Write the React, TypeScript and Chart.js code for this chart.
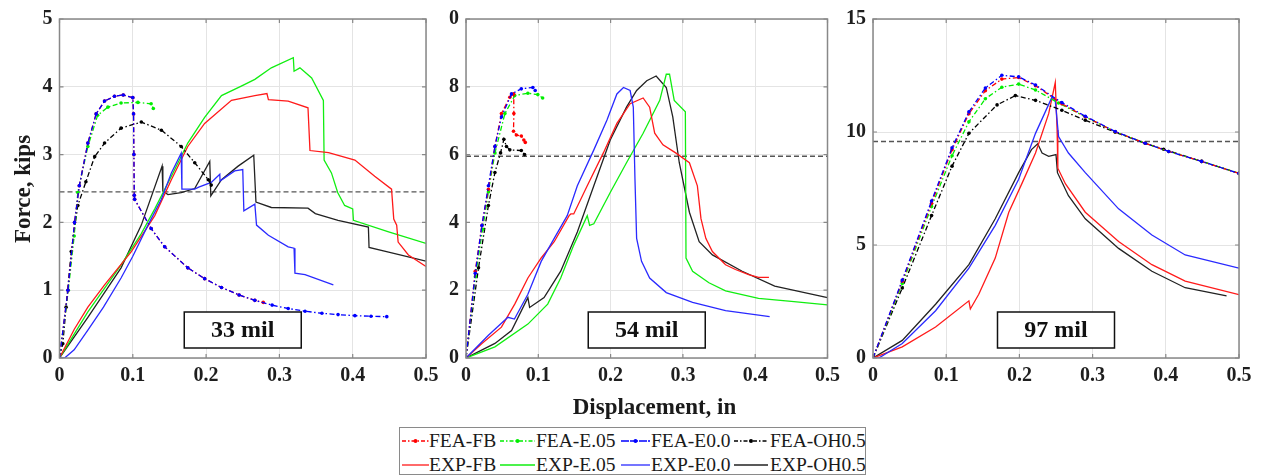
import React, { useEffect, useRef } from "react";
import { Chart, registerables } from "chart.js";
Chart.register(...registerables);

type Pt = [number, number];

// ---------- axes / labels ----------
const X_TICKS = [0, 0.1, 0.2, 0.3, 0.4, 0.5];
const Y_TICKS_33 = [0, 1, 2, 3, 4, 5];
const Y_TICKS_54 = [0, 2, 4, 6, 8, 10];
const Y_TICKS_97 = [0, 5, 10, 15];
const PANEL_LABELS = ["33 mil", "54 mil", "97 mil"];
const THRESHOLDS = [2.45, 5.95, 9.58];
const SERIES_NAMES = ["FEA-FB", "FEA-E.05", "FEA-E0.0", "FEA-OH0.5", "EXP-FB", "EXP-E.05", "EXP-E0.0", "EXP-OH0.5"];
const SERIES_COLORS = ["#ff0000", "#00ee00", "#0000ff", "#000000", "#ff1a1a", "#11ee11", "#2a2aff", "#222222"];
const X_TITLE = "Displacement, in";
const Y_TITLE = "Force, kips";

// ---------- 33 mil ----------
const p33FeaFB: Pt[] = [[0, 0], [0.0115, 1.0], [0.0205, 2.0], [0.027, 2.54], [0.0387, 3.17], [0.05, 3.6], [0.0615, 3.79], [0.075, 3.86], [0.087, 3.88], [0.1, 3.84], [0.101, 3.6], [0.1015, 3.0], [0.102, 2.4], [0.1025, 2.34], [0.125, 1.91], [0.1435, 1.64], [0.175, 1.33], [0.198, 1.17], [0.221, 1.04], [0.245, 0.93], [0.2665, 0.85], [0.278, 0.82]];
const p33FeaE05: Pt[] = [[0, 0], [0.012, 1.0], [0.02, 1.8], [0.025, 2.44], [0.0387, 3.12], [0.052, 3.58], [0.066, 3.7], [0.084, 3.76], [0.107, 3.77], [0.125, 3.75], [0.128, 3.68]];
const p33FeaE00: Pt[] = [[0, 0], [0.0115, 1.0], [0.0205, 2.0], [0.027, 2.54], [0.0387, 3.17], [0.05, 3.6], [0.0615, 3.79], [0.075, 3.86], [0.087, 3.88], [0.1, 3.84], [0.101, 3.6], [0.1015, 3.0], [0.102, 2.4], [0.1025, 2.34], [0.125, 1.91], [0.1435, 1.64], [0.175, 1.33], [0.198, 1.17], [0.221, 1.04], [0.245, 0.93], [0.2665, 0.85], [0.29, 0.78], [0.312, 0.73], [0.335, 0.69], [0.358, 0.66], [0.38, 0.64], [0.403, 0.625], [0.425, 0.615], [0.4465, 0.61]];
const p33FeaOH: Pt[] = [[0, 0], [0.0045, 0.21], [0.009, 0.75], [0.016, 1.57], [0.025, 2.25], [0.036, 2.6], [0.048, 2.97], [0.0615, 3.17], [0.084, 3.39], [0.1116, 3.48], [0.139, 3.36], [0.166, 3.12], [0.1845, 2.88], [0.203, 2.63], [0.207, 2.55]];
const p33ExpFB: Pt[] = [[0, 0], [0.02, 0.42], [0.0387, 0.75], [0.0615, 1.08], [0.098, 1.57], [0.13, 2.1], [0.1526, 2.63], [0.175, 3.12], [0.198, 3.46], [0.2346, 3.8], [0.2665, 3.87], [0.283, 3.9], [0.285, 3.81], [0.312, 3.79], [0.339, 3.69], [0.3417, 3.06], [0.367, 3.03], [0.403, 2.92], [0.43, 2.68], [0.453, 2.49], [0.456, 2.05], [0.46, 1.96], [0.462, 1.71], [0.476, 1.52], [0.5, 1.35]];
const p33ExpE05: Pt[] = [[0, 0], [0.0387, 0.68], [0.084, 1.375], [0.1116, 1.835], [0.13, 2.2], [0.1526, 2.68], [0.175, 3.17], [0.198, 3.55], [0.221, 3.87], [0.248, 4.01], [0.2665, 4.11], [0.289, 4.28], [0.319, 4.43], [0.32, 4.23], [0.328, 4.28], [0.344, 4.13], [0.36, 3.8], [0.361, 2.92], [0.371, 2.73], [0.3795, 2.44], [0.389, 2.25], [0.4, 2.2], [0.401, 2.03], [0.449, 1.86], [0.5, 1.69]];
const p33ExpE00: Pt[] = [[0, 0], [0.007, 0], [0.02, 0.12], [0.0387, 0.41], [0.06, 0.75], [0.084, 1.18], [0.1, 1.5], [0.1207, 1.96], [0.139, 2.34], [0.1526, 2.73], [0.166, 3.02], [0.167, 2.49], [0.1845, 2.49], [0.19, 2.52], [0.207, 2.59], [0.2187, 2.71], [0.219, 2.61], [0.239, 2.76], [0.25, 2.78], [0.2515, 2.17], [0.2665, 2.27], [0.2688, 1.96], [0.285, 1.81], [0.312, 1.64], [0.32, 1.62], [0.3212, 1.25], [0.335, 1.23], [0.3736, 1.08]];
const p33ExpOH: Pt[] = [[0, 0], [0.0387, 0.6], [0.084, 1.33], [0.1116, 1.96], [0.14, 2.83], [0.141, 2.46], [0.148, 2.41], [0.166, 2.44], [0.1845, 2.5], [0.205, 2.9], [0.2064, 2.39], [0.221, 2.63], [0.2437, 2.83], [0.265, 2.99], [0.268, 2.3], [0.289, 2.22], [0.339, 2.21], [0.349, 2.13], [0.38, 2.03], [0.4214, 1.93], [0.4223, 1.63], [0.449, 1.56], [0.5, 1.43]];

// ---------- 54 mil ----------
const p54FeaFB: Pt[] = [[0, 0], [0.0128, 2.56], [0.022, 3.91], [0.031, 4.98], [0.04, 6.24], [0.049, 7.21], [0.0606, 7.69], [0.066, 7.79], [0.0662, 7.21], [0.0657, 6.69], [0.0697, 6.58], [0.0765, 6.55], [0.08, 6.43], [0.082, 6.36]];
const p54FeaE05: Pt[] = [[0, 0], [0.013, 2.4], [0.023, 3.8], [0.031, 4.9], [0.04, 6.05], [0.0538, 7.21], [0.0674, 7.74], [0.0856, 7.81], [0.0993, 7.77], [0.106, 7.67]];
const p54FeaE00: Pt[] = [[0, 0], [0.0128, 2.5], [0.022, 3.91], [0.031, 5.08], [0.04, 6.24], [0.049, 7.11], [0.0629, 7.79], [0.0765, 7.94], [0.0925, 7.98], [0.0957, 7.89]];
const p54FeaOH: Pt[] = [[0, 0], [0.0173, 2.66], [0.031, 4.5], [0.04, 5.47], [0.0478, 6.05], [0.0524, 6.45], [0.056, 6.24], [0.0606, 6.14], [0.0765, 6.12], [0.081, 6.0]];
const p54ExpFB: Pt[] = [[0, 0], [0.022, 0.43], [0.049, 0.91], [0.0674, 1.59], [0.0856, 2.36], [0.104, 2.95], [0.122, 3.43], [0.1426, 4.2], [0.145, 4.25], [0.149, 4.25], [0.1677, 5.08], [0.19, 6.05], [0.2087, 6.92], [0.227, 7.5], [0.245, 7.67], [0.254, 7.4], [0.261, 6.63], [0.2724, 6.29], [0.29, 6.05], [0.309, 5.76], [0.32, 5.08], [0.325, 4.11], [0.3317, 3.53], [0.3408, 3.14], [0.359, 2.75], [0.3727, 2.61], [0.391, 2.46], [0.4046, 2.38], [0.419, 2.38]];
const p54ExpE05: Pt[] = [[0, 0], [0.04, 0.33], [0.0856, 1.0], [0.113, 1.59], [0.131, 2.36], [0.149, 3.33], [0.1677, 4.2], [0.171, 3.91], [0.1768, 3.96], [0.1995, 4.88], [0.222, 5.76], [0.245, 6.63], [0.268, 7.6], [0.277, 8.37], [0.2815, 8.37], [0.288, 7.6], [0.3034, 7.26], [0.3043, 2.95], [0.3134, 2.56], [0.336, 2.22], [0.359, 1.98], [0.4046, 1.76], [0.45, 1.67], [0.5, 1.57]];
const p54ExpE00: Pt[] = [[0, 0], [0.031, 0.67], [0.058, 1.2], [0.067, 1.15], [0.0856, 1.88], [0.104, 2.85], [0.122, 3.53], [0.14, 4.2], [0.154, 5.08], [0.1768, 6.14], [0.195, 7.02], [0.2087, 7.79], [0.2178, 7.98], [0.227, 7.89], [0.2314, 7.4], [0.2337, 5.27], [0.236, 3.53], [0.2428, 2.85], [0.254, 2.36], [0.277, 1.93], [0.3134, 1.64], [0.359, 1.4], [0.42, 1.22]];
const p54ExpOH: Pt[] = [[0, 0], [0.04, 0.43], [0.063, 0.81], [0.0856, 1.78], [0.088, 1.49], [0.108, 1.78], [0.131, 2.56], [0.154, 3.72], [0.1768, 5.08], [0.1995, 6.43], [0.222, 7.4], [0.236, 7.89], [0.25, 8.18], [0.263, 8.32], [0.277, 7.98], [0.286, 7.11], [0.295, 5.76], [0.309, 4.3], [0.3225, 3.43], [0.3408, 3.04], [0.382, 2.56], [0.427, 2.12], [0.5, 1.78]];

// ---------- 97 mil ----------
const p97FeaFB: Pt[] = [[0, 0], [0.04, 3.4], [0.08, 6.85], [0.108, 9.22], [0.131, 10.81], [0.1535, 11.83], [0.176, 12.34], [0.199, 12.41], [0.222, 12.05], [0.258, 11.25], [0.29, 10.67], [0.331, 10.01], [0.372, 9.5], [0.404, 9.14], [0.449, 8.7], [0.5, 8.17]];
const p97FeaE05: Pt[] = [[0, 0], [0.04, 3.3], [0.08, 6.7], [0.108, 8.95], [0.131, 10.45], [0.1535, 11.47], [0.176, 11.98], [0.199, 12.12], [0.222, 11.86], [0.2535, 11.28], [0.29, 10.67], [0.331, 10.01], [0.372, 9.5], [0.404, 9.14], [0.449, 8.7], [0.5, 8.17]];
const p97FeaE00: Pt[] = [[0, 0], [0.04, 3.45], [0.08, 6.95], [0.108, 9.3], [0.131, 10.89], [0.1535, 11.95], [0.176, 12.51], [0.199, 12.44], [0.222, 12.08], [0.258, 11.3], [0.29, 10.7], [0.331, 10.02], [0.372, 9.5], [0.404, 9.14], [0.449, 8.7], [0.5, 8.17]];
const p97FeaOH: Pt[] = [[0, 0], [0.04, 3.1], [0.08, 6.3], [0.108, 8.49], [0.131, 9.94], [0.1695, 11.2], [0.1945, 11.61], [0.222, 11.4], [0.258, 10.96], [0.29, 10.52], [0.331, 9.99], [0.372, 9.5], [0.397, 9.24], [0.449, 8.7], [0.5, 8.17]];
const p97ExpFB: Pt[] = [[0, 0], [0.04, 0.49], [0.0855, 1.37], [0.131, 2.53], [0.133, 2.17], [0.1445, 2.82], [0.167, 4.42], [0.1855, 6.45], [0.204, 7.76], [0.222, 9.07], [0.24, 10.81], [0.249, 12.19], [0.2515, 10.09], [0.2525, 8.4], [0.263, 7.7], [0.29, 6.45], [0.3355, 5.15], [0.381, 4.13], [0.4265, 3.4], [0.5, 2.8]];
const p97ExpE00: Pt[] = [[0, 0], [0.008, 0], [0.04, 0.64], [0.0855, 2.09], [0.131, 3.98], [0.167, 5.87], [0.199, 7.91], [0.222, 9.94], [0.2445, 11.54], [0.249, 11.4], [0.2535, 9.8], [0.267, 9.07], [0.29, 8.2], [0.3355, 6.6], [0.381, 5.44], [0.4265, 4.56], [0.5, 3.98]];
const p97ExpOH: Pt[] = [[0, 0], [0.04, 0.78], [0.0855, 2.38], [0.131, 4.13], [0.167, 6.16], [0.199, 8.2], [0.2165, 9.22], [0.225, 9.48], [0.231, 9.07], [0.24, 8.92], [0.25, 9.0], [0.252, 8.2], [0.267, 7.18], [0.29, 6.16], [0.3355, 4.85], [0.381, 3.84], [0.4265, 3.11], [0.483, 2.75]];

const PANEL_SERIES: (Pt[] | null)[][] = [
  [p33FeaFB, p33FeaE05, p33FeaE00, p33FeaOH, p33ExpFB, p33ExpE05, p33ExpE00, p33ExpOH],
  [p54FeaFB, p54FeaE05, p54FeaE00, p54FeaOH, p54ExpFB, p54ExpE05, p54ExpE00, p54ExpOH],
  [p97FeaFB, p97FeaE05, p97FeaE00, p97FeaOH, p97ExpFB, null, p97ExpE00, p97ExpOH],
];
const PANEL_YTICKS = [Y_TICKS_33, Y_TICKS_54, Y_TICKS_97];

// ---------- layout (pixels) ----------
const FONT = '"Liberation Serif", "Times New Roman", Times, serif';
Chart.defaults.font.family = FONT;
const LAYOUT = [
  { left: 0, width: 448, yW: 59.5, padR: 22, z: 3, white: true },
  { left: 400, width: 446, yW: 66, padR: 14.5, z: 1, white: false },
  { left: 830, width: 432, yW: 43, padR: 23, z: 2, white: false },
];
const CANVAS_H = 400;
const PLOT_TOP = 14;
const X_AXIS_H = 42;
const DRAW_ORDER = [3, 4, 1, 5, 7, 8, 6, 9];

const framePlugin = {
  id: "frame",
  beforeDraw(chart: any, _a: any, opts: any) {
    if (!opts.white) return;
    const ctx = chart.ctx;
    ctx.save();
    ctx.fillStyle = "#ffffff";
    ctx.fillRect(0, 0, chart.width, chart.height);
    ctx.restore();
  },
  afterDatasetsDraw(chart: any, _a: any, opts: any) {
    const { ctx, chartArea: a, scales } = chart;
    ctx.save();
    ctx.strokeStyle = "#888888";
    ctx.lineWidth = 1.5;
    ctx.strokeRect(a.left, a.top, a.right - a.left, a.bottom - a.top);
    ctx.lineWidth = 1.2;
    ctx.beginPath();
    for (const v of X_TICKS) {
      const px = scales.x.getPixelForValue(v);
      ctx.moveTo(px, a.bottom); ctx.lineTo(px, a.bottom - 4);
      ctx.moveTo(px, a.top); ctx.lineTo(px, a.top + 4);
    }
    for (const v of opts.yTicks) {
      const py = scales.y.getPixelForValue(v);
      ctx.moveTo(a.left, py); ctx.lineTo(a.left + 4, py);
      ctx.moveTo(a.right, py); ctx.lineTo(a.right - 4, py);
    }
    ctx.stroke();
    // annotation box
    const bw = 117, bh = 36;
    const cx = (a.left + a.right) / 2;
    const by = a.bottom - 10 - bh;
    ctx.fillStyle = "#ffffff";
    ctx.fillRect(cx - bw / 2, by, bw, bh);
    ctx.strokeStyle = "#111111";
    ctx.lineWidth = 1.5;
    ctx.strokeRect(cx - bw / 2, by, bw, bh);
    ctx.fillStyle = "#111111";
    ctx.font = `bold 24px ${FONT}`;
    ctx.textAlign = "center";
    ctx.textBaseline = "middle";
    ctx.fillText(opts.label, cx, by + bh / 2 + 1);
    ctx.restore();
  },
};

function Panel({ idx }: { idx: number }) {
  const ref = useRef<HTMLCanvasElement>(null);
  const L = LAYOUT[idx];
  useEffect(() => {
    const yTicks = PANEL_YTICKS[idx];
    const datasets: any[] = [];
    PANEL_SERIES[idx].forEach((pts, i) => {
      if (!pts) return;
      const fea = i < 4;
      const c = SERIES_COLORS[i];
      datasets.push({
        label: SERIES_NAMES[i],
        data: pts.map(([x, y]) => ({ x, y })),
        borderColor: c,
        backgroundColor: c,
        borderWidth: 1.3,
        borderDash: fea ? [5, 2.5, 1.5, 2.5] : [],
        pointRadius: fea ? 1.8 : 0,
        pointBorderWidth: 0,
        pointBackgroundColor: c,
        tension: 0,
        fill: false,
        order: DRAW_ORDER[i],
      });
    });
    datasets.push({
      label: "threshold",
      data: [{ x: X_TICKS[0], y: THRESHOLDS[idx] }, { x: X_TICKS[X_TICKS.length - 1], y: THRESHOLDS[idx] }],
      borderColor: "#555555",
      borderWidth: 1.4,
      borderDash: [5, 3],
      pointRadius: 0,
      fill: false,
      order: 20,
    });
    const tickFont = { family: FONT, size: 20, weight: "bold" as const };
    const chart = new Chart(ref.current!, {
      type: "line",
      data: { datasets },
      plugins: [framePlugin as any],
      options: {
        animation: false,
        responsive: false,
        maintainAspectRatio: false,
        events: [],
        layout: { padding: { left: 0, right: L.padR, top: PLOT_TOP, bottom: 0 } },
        plugins: {
          legend: { display: false },
          tooltip: { enabled: false },
          frame: { label: PANEL_LABELS[idx], yTicks, white: L.white },
        } as any,
        scales: {
          x: {
            type: "linear",
            min: X_TICKS[0],
            max: X_TICKS[X_TICKS.length - 1],
            afterBuildTicks: (s: any) => { s.ticks = X_TICKS.map((v) => ({ value: v })); },
            afterFit: (s: any) => { s.height = X_AXIS_H; },
            grid: { color: "#e4e4e4", lineWidth: 1, drawTicks: false },
            border: { display: false },
            ticks: { autoSkip: false, maxRotation: 0, minRotation: 0, padding: 6, color: "#1e1e1e", font: tickFont, callback: (v: any) => String(v) },
          },
          y: {
            type: "linear",
            min: yTicks[0],
            max: yTicks[yTicks.length - 1],
            afterBuildTicks: (s: any) => { s.ticks = yTicks.map((v) => ({ value: v })); },
            afterFit: (s: any) => { s.width = L.yW; },
            grid: { color: "#e4e4e4", lineWidth: 1, drawTicks: false },
            border: { display: false },
            ticks: { autoSkip: false, padding: 7, color: "#1e1e1e", font: tickFont, callback: (v: any) => String(v) },
          },
        },
      },
    } as any);
    return () => chart.destroy();
  }, [idx]);
  return (
    <canvas
      ref={ref}
      width={L.width}
      height={CANVAS_H}
      style={{ position: "absolute", left: L.left, top: 0, width: L.width, height: CANVAS_H, zIndex: L.z }}
    />
  );
}

// legend placement (styling only)
const LEG_LINE_X = [2, 100, 221, 334];
const LEG_LINE_W = [27, 35, 29, 34];
const LEG_TEXT_X = [29, 136, 251, 370];

function LegendSample({ i, x, w, y }: { i: number; x: number; w: number; y: number }) {
  const fea = i < 4;
  const c = SERIES_COLORS[i];
  return (
    <svg style={{ position: "absolute", left: x, top: y - 5, width: w, height: 10, overflow: "visible" }} width={w} height={10}>
      <line x1={0} y1={5} x2={w} y2={5} stroke={c} strokeWidth={1.3} strokeDasharray={fea ? (i === 2 ? "8,1" : "4,2,1.5,2") : undefined} />
      {fea ? <circle cx={w / 2} cy={5} r={2} fill={c} /> : null}
    </svg>
  );
}

function Legend() {
  const rows = [0, 1];
  return (
    <div
      style={{
        position: "absolute", left: 399, top: 427, width: 467, height: 48, boxSizing: "border-box",
        border: "1.5px solid #8a8a8a", background: "#fff", zIndex: 5,
      }}
    >
      {rows.map((r) =>
        [0, 1, 2, 3].map((col) => {
          const i = r * 4 + col;
          const lineY = r === 0 ? 13 : 37;
          return (
            <React.Fragment key={i}>
              <LegendSample i={i} x={LEG_LINE_X[col]} w={LEG_LINE_W[col]} y={lineY} />
              <div
                style={{
                  position: "absolute", left: LEG_TEXT_X[col], top: lineY - 11, height: 22, lineHeight: "22px",
                  fontFamily: FONT, fontSize: 19.5, color: "#1a1a1a", whiteSpace: "nowrap",
                }}
              >
                {SERIES_NAMES[i]}
              </div>
            </React.Fragment>
          );
        })
      )}
    </div>
  );
}

export default function App() {
  return (
    <div style={{ position: "absolute", left: 0, top: 0, width: 1262, height: 476, background: "#fff", overflow: "hidden" }}>
      <Panel idx={1} />
      <Panel idx={2} />
      <Panel idx={0} />
      <div
        style={{
          position: "absolute", left: -77, top: 174, width: 200, height: 30, lineHeight: "30px", textAlign: "center",
          transform: "rotate(-90deg)", fontFamily: FONT, fontWeight: "bold", fontSize: 23, color: "#1a1a1a", zIndex: 6,
        }}
      >
        {Y_TITLE}
      </div>
      <div
        style={{
          position: "absolute", left: 504.5, top: 394, width: 300, height: 26, lineHeight: "26px", textAlign: "center",
          fontFamily: FONT, fontWeight: "bold", fontSize: 23, color: "#1a1a1a", zIndex: 6,
        }}
      >
        {X_TITLE}
      </div>
      <Legend />
    </div>
  );
}
